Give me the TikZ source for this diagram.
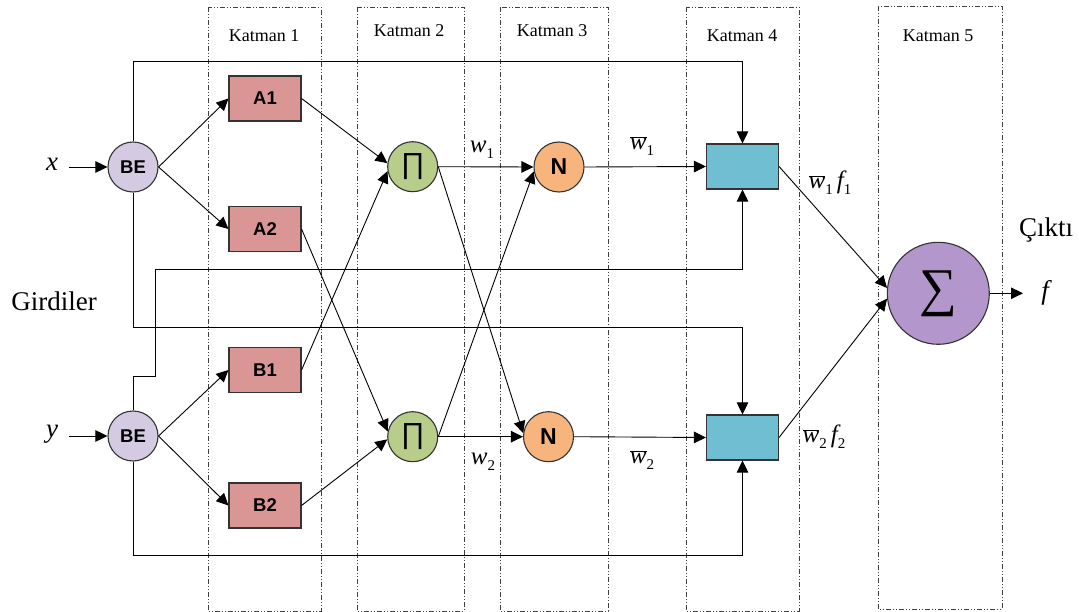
\documentclass[tikz,border=0pt]{standalone}
\usepackage{fontspec}
\setmainfont{Liberation Serif}
\setsansfont{Liberation Sans}
\usetikzlibrary{arrows.meta}
\definecolor{cBE}{HTML}{D4CAE1}
\definecolor{cA}{HTML}{D99694}
\definecolor{cP}{HTML}{B9CD8A}
\definecolor{cN}{HTML}{F8B47D}
\definecolor{cC}{HTML}{70BED2}
\definecolor{cS}{HTML}{B396CC}
\newcommand\sbs[1]{\raisebox{-0.25em}{\upshape\fontsize{15}{15}\selectfont #1}}
\newcommand\wbr{$\overline{\mbox{\itshape w}}$}
\tikzset{
  layer/.style={draw=black!75, line width=0.9pt, dash pattern=on 5pt off 2pt on 1pt off 2pt on 1pt off 2pt},
  lbl/.style={font=\fontsize{18}{20}\selectfont, inner sep=0pt},
  big/.style={font=\fontsize{27}{30}\selectfont, inner sep=0pt},
  mlbl/.style={font=\fontsize{25}{28}\selectfont, inner sep=0pt},
  circ/.style={circle, draw=black!80, line width=1.1pt, minimum size=50pt, inner sep=0pt},
  boxa/.style={rectangle, draw=black!80, line width=1.1pt, fill=cA, minimum width=72pt, minimum height=45pt, inner sep=0pt, font=\sffamily\bfseries\fontsize{18.5}{20}\selectfont},
  boxc/.style={rectangle, draw=black!80, line width=1.1pt, fill=cC, minimum width=72pt, minimum height=45pt, inner sep=0pt},
  arr/.style={line width=0.9pt, -{Triangle[length=12pt,width=11.5pt]}},
  wire/.style={line width=0.9pt}
}
\begin{document}
\begin{tikzpicture}[x=1pt,y=-1pt]
\useasboundingbox (0,0) rectangle (1079,612);
% layer boxes
\draw[layer] (208,7) rectangle (321,611);
\draw[layer] (357,7) rectangle (464,611);
\draw[layer] (500,7) rectangle (608,611);
\draw[layer] (686,7) rectangle (799,611);
\draw[layer] (878,6) rectangle (1002,609);
\node[lbl] (k1) at (264,36) {Katman 1};
\node[lbl] (k2) at (409,31) {Katman 2};
\node[lbl] (k3) at (552,31) {Katman 3};
\node[lbl] (k4) at (742,36) {Katman 4};
\node[lbl] (k5) at (938,36) {Katman 5};
% nodes
\node[circ, fill=cBE, font=\sffamily\bfseries\fontsize{18.5}{20}\selectfont] (BE1) at (133,167) {BE};
\node[circ, fill=cBE, font=\sffamily\bfseries\fontsize{18.5}{20}\selectfont] (BE2) at (133,436) {BE};
\node[boxa] (A1) at (265,98.5) {A1};
\node[boxa] (A2) at (265,229) {A2};
\node[boxa] (B1) at (265,370) {B1};
\node[boxa] (B2) at (265,505.5) {B2};
\node[circ, fill=cP, font=\sffamily\fontsize{29}{30}\selectfont] (P1) at (412.7,166.7) {∏};
\node[circ, fill=cP, font=\sffamily\fontsize{29}{30}\selectfont] (P2) at (412.7,436.7) {∏};
\node[circ, fill=cN, font=\sffamily\bfseries\fontsize{23}{25}\selectfont] (N1) at (559,167) {N};
\node[circ, fill=cN, font=\sffamily\bfseries\fontsize{23}{25}\selectfont] (N2) at (548.5,436.7) {N};
\node[boxc] (C1) at (742.5,166.5) {};
\node[boxc] (C2) at (742.5,437.5) {};
\node[circ, minimum size=102pt, fill=cS, font=\fontsize{53}{55}\selectfont] (S) at (938.3,293.3) {∑};
% texts
\node[big] (tx) at (52,164) {\itshape x};
\node[big] (ty) at (52,434) {\itshape y};
\node[big] (gi) at (54,301) {Girdiler};
\node[big] (ci) at (1046,230) {Çıktı};
\node[big] (tf) at (1045,293) {\itshape f};
\node[mlbl] (w1) at (482,150) {\itshape w\sbs{1}};
\node[mlbl] (wb1) at (642,146) {\wbr\sbs{1}};
\node[mlbl] (w2) at (483,462) {\itshape w\sbs{2}};
\node[mlbl] (wb2) at (642,460) {\wbr\sbs{2}};
\node[mlbl] (wf1) at (830,183) {\wbr\sbs{1}\,\itshape f\sbs{1}};
\node[mlbl] (wf2) at (824,437) {\wbr\sbs{2}\,\itshape f\sbs{2}};
% connectors
\coordinate (xin) at (69,167);
\coordinate (yin) at (69,436);
\coordinate (fout) at (1023,293.3);
\draw[arr] (xin) -- (BE1.west);
\draw[arr] (yin) -- (BE2.west);
\draw[arr] (BE1.north) -- ++(0,-80) -| (C1.north);
\draw[arr] (BE1.south) -- ++(0,135) -| (C2.north);
\draw[arr] (BE2.north) -- ++(0,-34) -- ++(22,0) -- ++(0,-107) -| (C1.south);
\draw[arr] (BE2.south) -- ++(0,94) -| (C2.south);
\draw[arr] (BE1.east) -- (A1.west);
\draw[arr] (BE1.east) -- (A2.west);
\draw[arr] (BE2.east) -- (B1.west);
\draw[arr] (BE2.east) -- (B2.west);
\draw[arr] (A1.east) -- (P1.172);
\draw[arr] (B1.east) -- (P1.190);
\draw[arr] (A2.east) -- (P2.168);
\draw[arr] (B2.east) -- (P2.186);
\draw[arr] (P1.east) -- (N1.west);
\draw[arr] (P1.east) -- (N2.172);
\draw[arr] (P2.east) -- (N2.west);
\draw[arr] (P2.east) -- (N1.190);
\draw[arr] (N1.east) -- (C1.west);
\draw[arr] (N2.east) -- (C2.west);
\draw[arr] (C1.east) -- (S.174.5);
\draw[arr] (C2.east) -- (S.186.7);
\draw[arr] (S.east) -- (fout);
\end{tikzpicture}
\end{document}
